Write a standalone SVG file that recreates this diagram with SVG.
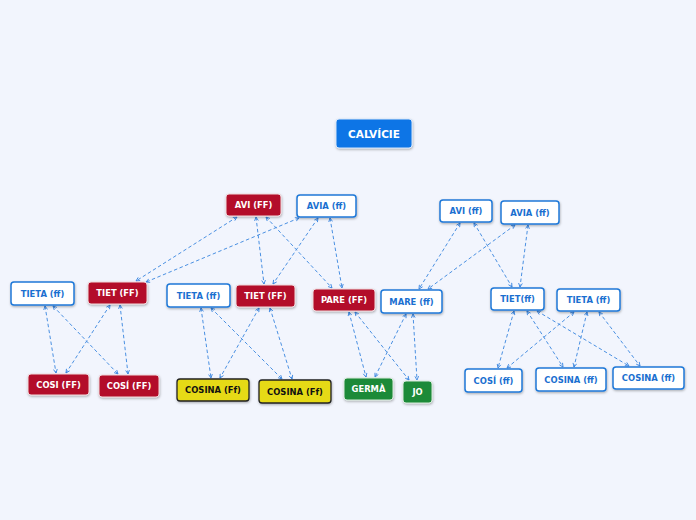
<svg xmlns="http://www.w3.org/2000/svg" width="696" height="520" viewBox="0 0 696 520">
<style>
text{font-family:"DejaVu Sans","Verdana",sans-serif;font-weight:bold;font-size:8.4px;text-anchor:middle;dominant-baseline:central}
.w rect{fill:#fff;stroke:#1f78d8;stroke-width:1.5}
.w text{fill:#1a6fd0}
.r rect{fill:#b3102b;stroke:#f0d8dc;stroke-width:1}
.r text{fill:#fff}
.g rect{fill:#1d8a38;stroke:#d8eadb;stroke-width:1}
.g text{fill:#fff}
.y rect{fill:#e6da18;stroke:#222;stroke-width:1.3}
.y text{fill:#111}
.b rect{fill:#0a74e6;stroke:#d6e6fa;stroke-width:1}
.b text{fill:#fff;font-size:10.5px}
rect{filter:url(#sh)}
#edges line{stroke:#4a90e2;stroke-width:1;stroke-dasharray:3.5 2.5;fill:none;marker-start:url(#ah);marker-end:url(#ah)}
</style>
<defs>
<filter id="sh" x="-20%" y="-30%" width="140%" height="170%"><feDropShadow dx="0.5" dy="1.2" stdDeviation="0.8" flood-color="#000" flood-opacity="0.3"/></filter>
<marker id="ah" viewBox="0 0 8 8" refX="7" refY="4" markerWidth="5" markerHeight="5" orient="auto-start-reverse" markerUnits="userSpaceOnUse"><path d="M1,1 L7,4 L1,7" fill="none" stroke="#3b87e2" stroke-width="1.4"/></marker>
</defs>
<rect width="696" height="520" fill="#f2f5fd" style="filter:none"/>
<g id="edges">
<line x1="237" y1="217" x2="136" y2="281"/>
<line x1="299" y1="218" x2="146" y2="282"/>
<line x1="45" y1="306" x2="56" y2="373"/>
<line x1="53" y1="306" x2="118" y2="374"/>
<line x1="110" y1="305" x2="66" y2="373"/>
<line x1="120" y1="305" x2="128" y2="374"/>
<line x1="256" y1="217" x2="264" y2="284"/>
<line x1="266" y1="217" x2="332" y2="288"/>
<line x1="318" y1="218" x2="273" y2="284"/>
<line x1="330" y1="218" x2="342" y2="288"/>
<line x1="201" y1="308" x2="211" y2="378"/>
<line x1="211" y1="308" x2="282" y2="379"/>
<line x1="259" y1="308" x2="220" y2="378"/>
<line x1="270" y1="308" x2="292" y2="379"/>
<line x1="349" y1="312" x2="366" y2="377"/>
<line x1="355" y1="312" x2="409" y2="380"/>
<line x1="406" y1="314" x2="375" y2="377"/>
<line x1="413" y1="314" x2="417" y2="380"/>
<line x1="460" y1="223" x2="419" y2="289"/>
<line x1="515" y1="225" x2="428" y2="289"/>
<line x1="474" y1="223" x2="512" y2="287"/>
<line x1="528" y1="225" x2="520" y2="287"/>
<line x1="514" y1="311" x2="498" y2="368"/>
<line x1="527" y1="311" x2="563" y2="367"/>
<line x1="537" y1="311" x2="629" y2="366"/>
<line x1="574" y1="312" x2="507" y2="368"/>
<line x1="587" y1="312" x2="574" y2="367"/>
<line x1="599" y1="312" x2="640" y2="366"/>
</g>
<g id="calvicie" class="b"><rect x="336" y="119" width="76" height="29" rx="3"/><text x="374" y="133.5">CALVÍCIE</text></g>
<g id="avi-FF" class="r"><rect x="226" y="194" width="55" height="22" rx="3"/><text x="253.5" y="205">AVI (FF)</text></g>
<g id="avia-ff" class="w"><rect x="297" y="195" width="59" height="22" rx="3"/><text x="326.5" y="206">AVIA (ff)</text></g>
<g id="tieta-left" class="w"><rect x="11" y="282" width="63" height="23" rx="3"/><text x="42.5" y="293.5">TIETA (ff)</text></g>
<g id="tiet-left" class="r"><rect x="88" y="282" width="59" height="22" rx="3"/><text x="117.5" y="293">TIET (FF)</text></g>
<g id="tieta-mid" class="w"><rect x="167" y="284" width="63" height="23" rx="3"/><text x="198.5" y="295.5">TIETA (ff)</text></g>
<g id="tiet-mid" class="r"><rect x="236" y="285" width="59" height="22" rx="3"/><text x="265.5" y="296">TIET (FF)</text></g>
<g id="pare" class="r"><rect x="313" y="289" width="62" height="22" rx="3"/><text x="344" y="300">PARE (FF)</text></g>
<g id="mare" class="w"><rect x="381" y="290" width="61" height="23" rx="3"/><text x="411.5" y="301.5">MARE (ff)</text></g>
<g id="cosi-FF" class="r"><rect x="28" y="374" width="61" height="21" rx="3"/><text x="58.5" y="384.5">COSI (FF)</text></g>
<g id="cosi2-FF" class="r"><rect x="99" y="375" width="60" height="22" rx="3"/><text x="129" y="386">COSÍ (FF)</text></g>
<g id="cosina-Ff1" class="y"><rect x="177" y="379" width="72" height="22" rx="3"/><text x="213" y="390">COSINA (Ff)</text></g>
<g id="cosina-Ff2" class="y"><rect x="259" y="380" width="72" height="23" rx="3"/><text x="295" y="391.5">COSINA (Ff)</text></g>
<g id="germa" class="g"><rect x="344" y="378" width="49" height="22" rx="3"/><text x="368.5" y="389">GERMÀ</text></g>
<g id="jo" class="g"><rect x="403" y="381" width="29" height="22" rx="3"/><text x="417.5" y="392">JO</text></g>
<g id="avi-ff-r" class="w"><rect x="440" y="200" width="52" height="22" rx="3"/><text x="466" y="211">AVI (ff)</text></g>
<g id="avia-ff-r" class="w"><rect x="501" y="201" width="58" height="23" rx="3"/><text x="530" y="212.5">AVIA (ff)</text></g>
<g id="tiet-ff-r" class="w"><rect x="491" y="288" width="53" height="22" rx="3"/><text x="517.5" y="299">TIET(ff)</text></g>
<g id="tieta-ff-r" class="w"><rect x="557" y="289" width="63" height="22" rx="3"/><text x="588.5" y="300">TIETA (ff)</text></g>
<g id="cosi-ff-r" class="w"><rect x="465" y="369" width="57" height="23" rx="3"/><text x="493.5" y="380.5">COSÍ (ff)</text></g>
<g id="cosina-ff-r1" class="w"><rect x="536" y="368" width="70" height="23" rx="3"/><text x="571" y="379.5">COSINA (ff)</text></g>
<g id="cosina-ff-r2" class="w"><rect x="613" y="367" width="71" height="22" rx="3"/><text x="648.5" y="378">COSINA (ff)</text></g>
</svg>
